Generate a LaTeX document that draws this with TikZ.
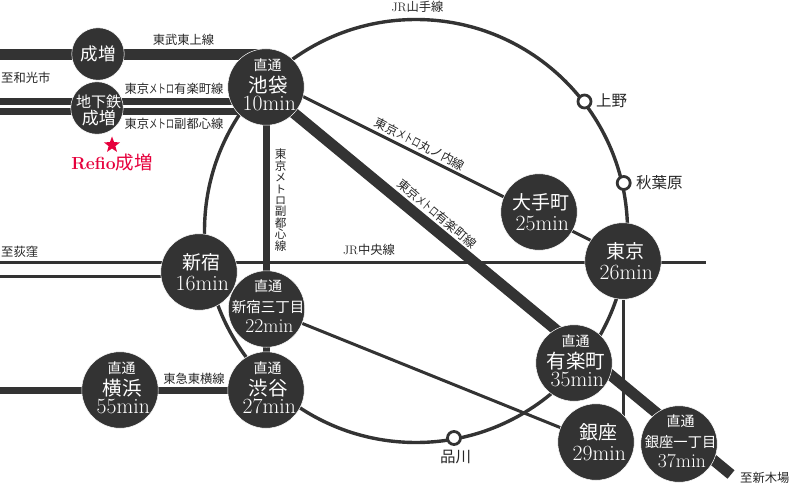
\documentclass[tikz,border=0pt]{standalone}
\usepackage{fontspec}
\usetikzlibrary{shapes.geometric,backgrounds}
\newfontfamily\cjk{Noto Sans CJK JP}
\newfontfamily\cjkn[FakeStretch=0.68]{Noto Sans CJK JP}
\definecolor{ink}{HTML}{333333}
\definecolor{refio}{HTML}{E6003C}
\lineskiplimit=-30pt
\newcommand{\fs}[2]{\fontsize{#1}{#2}\selectfont}
\newcommand{\mt}{{\cjkn メトロ}}
% one centred line of a stack: gap from previous baseline, size, font, text
\newcommand{\sline}[4]{\hbox to 90pt{\hss\vrule height #1pt depth 0pt width 0pt\smash{\fs{#2}{#2}#3 #4}\hss}}
\newcommand{\thr}[7]{\vbox{\offinterlineskip\sline{0}{14}{\cjk}{#1}\sline{#6}{#4}{\cjk}{#2}\sline{#7}{#5}{\normalfont}{#3}}}
\newcommand{\two}[2]{\vbox{\offinterlineskip\sline{0}{19}{\cjk}{#1}\sline{21}{21.7}{\normalfont}{#2}}}
\tikzset{
  x=1pt,y=-1pt,
  stationdot/.style={circle,fill=ink,draw=white,line width=.5pt,minimum size=76.5pt,inner sep=0pt},
  smalldot/.style={circle,fill=ink,draw=white,line width=.5pt,minimum size=52.5pt,inner sep=0pt},
  stationtext/.style={text=white,inner sep=0pt,anchor=north},
  hollow/.style={circle,fill=white,draw=ink,line width=2.8pt,minimum size=13pt,inner sep=0pt},
  thin rail/.style={draw=ink,line width=3pt},
  heavy rail/.style={draw=ink,line width=7pt},
  bold rail/.style={draw=ink,line width=11pt},
  linelabel/.style={text=black!85,inner sep=0pt,font=\cjk\fs{12.3}{12.3}},
  placelabel/.style={text=black!85,inner sep=0pt,font=\cjk\fs{15.5}{15.5}},
}
\begin{document}
\begin{tikzpicture}
\useasboundingbox (0,0) rectangle (790,484);
% stations
\node[stationdot] (ike) at (266,87) {};
\node[smalldot] (nari) at (98,54) {};
\node[smalldot] (chika) at (97,108) {};
\node[stationdot] (shinj) at (199,272) {};
\node[stationdot] (san) at (266.5,309) {};
\node[stationdot] (shib) at (266,390) {};
\node[stationdot] (yoko) at (120,390) {};
\node[stationdot] (ote) at (539,212) {};
\node[stationdot] (tok) at (623,261) {};
\node[stationdot] (yura) at (574,363) {};
\node[stationdot] (gin) at (596,442) {};
\node[stationdot] (gin1) at (679,444) {};
\coordinate (wTobu) at (0,54.5);
\coordinate (wY1) at (0,101.8);
\coordinate (wY2) at (0,111.8);
\coordinate (wJR1) at (0,262);
\coordinate (eJR1) at (706,262);
\coordinate (wJR2) at (0,276.3);
\coordinate (wToyo) at (0,390);
\coordinate (eYura) at (731,474.5);
\coordinate (yamanote) at (416,231);
% lines, behind the stations
\begin{scope}[on background layer]
\draw[ink,line width=3.4pt] (yamanote) circle[radius=211.5];
\draw[thin rail] (wJR1) -- (eJR1);
\draw[thin rail] (wJR2) -- (wJR2 -| shinj);
\draw[bold rail] (wTobu) -- (wTobu -| ike);
\draw[heavy rail] (wY1) -- (wY1 -| ike);
\draw[heavy rail] (wY2) -- (wY2 -| ike);
\draw[heavy rail] (wToyo) -- (shib);
\draw[heavy rail] (ike) -- (shib);
\draw[bold rail] ([yshift=-3pt]ike.center) -- (eYura);
\draw[thin rail] ([yshift=9pt]ike.center) -- ([yshift=4.5pt]tok.center);
\draw[thin rail] (san) -- (gin);
\draw[thin rail] (tok) -- (tok |- gin);
\end{scope}
% station texts
\node[stationtext] (ike-t) at ([yshift=16.7pt]ike.center) {\thr{直通}{池袋}{10min}{19.5}{21.7}{22}{17.7}};
\node[stationtext] (shib-t) at ([yshift=16.7pt]shib.center) {\thr{直通}{渋谷}{27min}{19.5}{21.7}{22}{17.7}};
\node[stationtext] (yoko-t) at ([yshift=16.7pt]yoko.center) {\thr{直通}{横浜}{55min}{19.5}{21.7}{22}{17.7}};
\node[stationtext] (yura-t) at ([yshift=16.7pt]yura.center) {\thr{直通}{有楽町}{35min}{19.5}{21.7}{22}{17.7}};
\node[stationtext] (san-t) at ([yshift=17.7pt]san.center) {\thr{直通}{新宿三丁目}{22min}{14.5}{19.6}{21}{20}};
\node[stationtext] (gin1-t) at ([yshift=17.7pt]gin1.center) {\thr{直通}{銀座一丁目}{37min}{14.3}{19.6}{21}{20}};
\node[stationtext] (shinj-t) at ([yshift=2.8pt]shinj.center) {\two{新宿}{16min}};
\node[stationtext] (ote-t) at ([yshift=2.8pt]ote.center) {\two{大手町}{25min}};
\node[stationtext] (tok-t) at ([yshift=2.8pt]tok.center) {\two{東京}{26min}};
\node[stationtext] (gin-t) at ([yshift=2.8pt]gin.center) {\two{銀座}{29min}};
\node[stationtext,anchor=center,font=\cjk\fs{17.5}{17.5}] (nari-t) at (nari) {成増};
\node[stationtext] (chika-t) at ([yshift=1.1pt]chika.center) {\vbox{\offinterlineskip\sline{0}{15}{\cjk}{地下鉄}\sline{17.6}{17}{\cjk}{成増}}};
% small stations
\node[hollow] (ueno) at (584.5,101.5) {};
\node[hollow] (akiba) at (623.7,183) {};
\node[hollow] (shina) at (454,438) {};
\node[placelabel,anchor=west] (ueno-t) at (596,101) {上野};
\node[placelabel,anchor=west] (akiba-t) at (636,183) {秋葉原};
\node[placelabel,anchor=center] (shina-t) at (455.5,457) {品川};
% line labels
\node[linelabel] (l1) at (183.5,40) {東武東上線};
\node[linelabel] (l2) at (174,89) {東京\mt 有楽町線};
\node[linelabel] (l3) at (174,124) {東京\mt 副都心線};
\node[linelabel] (l4) at (194,378.5) {東急東横線};
\node[linelabel,font=\fs{12.3}{12.3}] (l5) at (417.5,7) {JR{\cjk 山手線}};
\node[linelabel,font=\fs{12.3}{12.3}] (l6) at (369,250) {JR{\cjk 中央線}};
\node[linelabel,rotate=-27] (l7) at (420,144) {東京\mt 丸ノ内線};
\node[linelabel,rotate=-40] (l8) at (437,214) {東京\mt 有楽町線};
\node[linelabel,anchor=north] (l9) at (279.3,158.6) {\vbox{\offinterlineskip\sline{0}{11.6}{\cjk}{東}\sline{11.4}{11.6}{\cjk}{京}\sline{11.4}{11}{\cjk}{メ}\sline{11.4}{11}{\cjk}{ト}\sline{11.4}{11}{\cjk}{ロ}\sline{11.4}{11.6}{\cjk}{副}\sline{11.4}{11.6}{\cjk}{都}\sline{11.4}{11.6}{\cjk}{心}\sline{11.4}{11.6}{\cjk}{線}}};
\node[linelabel,anchor=west] (to1) at (1,78) {至和光市};
\node[linelabel,anchor=west] (to2) at (1,252) {至荻窪};
\node[linelabel,anchor=west] (to3) at (740,478) {至新木場};
% Refio
\node[star,star points=5,star point ratio=2.4,fill=refio,minimum size=17pt,inner sep=0pt] (star) at (112,145) {};
\node[text=refio,inner sep=0pt,font=\fs{17.5}{18.5}\bfseries] (refio) at (112,163) {Refio{\mdseries\cjk\fs{18.5}{18.5}成増}};
\end{tikzpicture}
\end{document}
